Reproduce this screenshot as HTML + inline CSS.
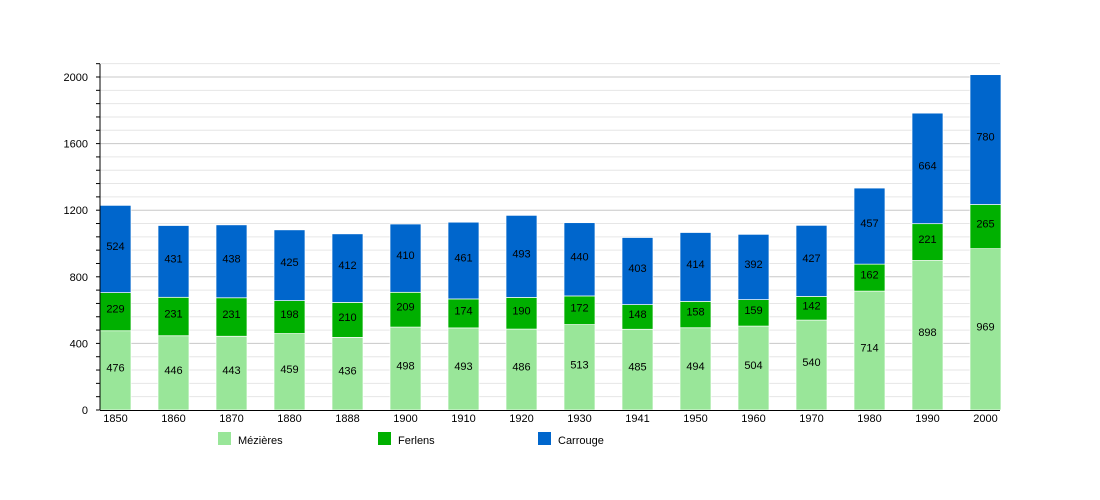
<!DOCTYPE html><html><head><meta charset="utf-8"><style>body{margin:0;background:#fff}svg{display:block;font-family:"Liberation Sans",sans-serif}</style></head><body>
<svg id="s" width="1100" height="500" xmlns="http://www.w3.org/2000/svg"></svg>
<script>
const d=[[1850,476,229,524],[1860,446,231,431],[1870,443,231,438],[1880,459,198,425],[1888,436,210,412],[1900,498,209,410],[1910,493,174,461],[1920,486,190,493],[1930,513,172,440],[1941,485,148,403],[1950,494,158,414],[1960,504,159,392],[1970,540,142,427],[1980,714,162,457],[1990,898,221,664],[2000,969,265,780]];
const k=0.1665,y=v=>410-v*k;let h='';
for(let v=0;v<=2080;v+=80){if(v)h+=`<line x1="100" x2="1000" y1="${y(v)}" y2="${y(v)}" stroke="${v%400?'#e6e6e6':'#c8c8c8'}" stroke-width="1"/>`;h+=`<line x1="96" x2="100" y1="${y(v)}" y2="${y(v)}" stroke="#000"/>`;if(v%400==0)h+=`<text x="88" y="${y(v)+4}" font-size="11" text-anchor="end">${v}</text>`;}
const c=['#99e699','#00b000','#0066cc'];
d.forEach((r,i)=>{const x=100+i*58;let b=0;for(let j=0;j<3;j++){const t=b+r[j+1];h+=`<rect x="${x}" y="${y(t)}" width="31" height="${r[j+1]*k}" fill="${c[j]}" stroke="#fff" stroke-width="0.7"/>`;h+=`<text x="${x+15.5}" y="${y((b+t)/2)+1}" font-size="11" text-anchor="middle">${r[j+1]}</text>`;b=t;}
h+=`<text x="${x+15.5}" y="422" font-size="11" text-anchor="middle">${r[0]}</text>`;});
h+=`<line x1="100" x2="100" y1="64" y2="410" stroke="#000"/><line x1="100" x2="1000" y1="410.5" y2="410.5" stroke="#000"/>`;
[['Mézières',218],['Ferlens',378],['Carrouge',538]].forEach((l,i)=>{h+=`<rect x="${l[1]}" y="432" width="13" height="13" fill="${c[i]}"/><text x="${l[1]+20}" y="444" font-size="11">${l[0]}</text>`;});
document.getElementById('s').innerHTML=h;
</script></body></html>
